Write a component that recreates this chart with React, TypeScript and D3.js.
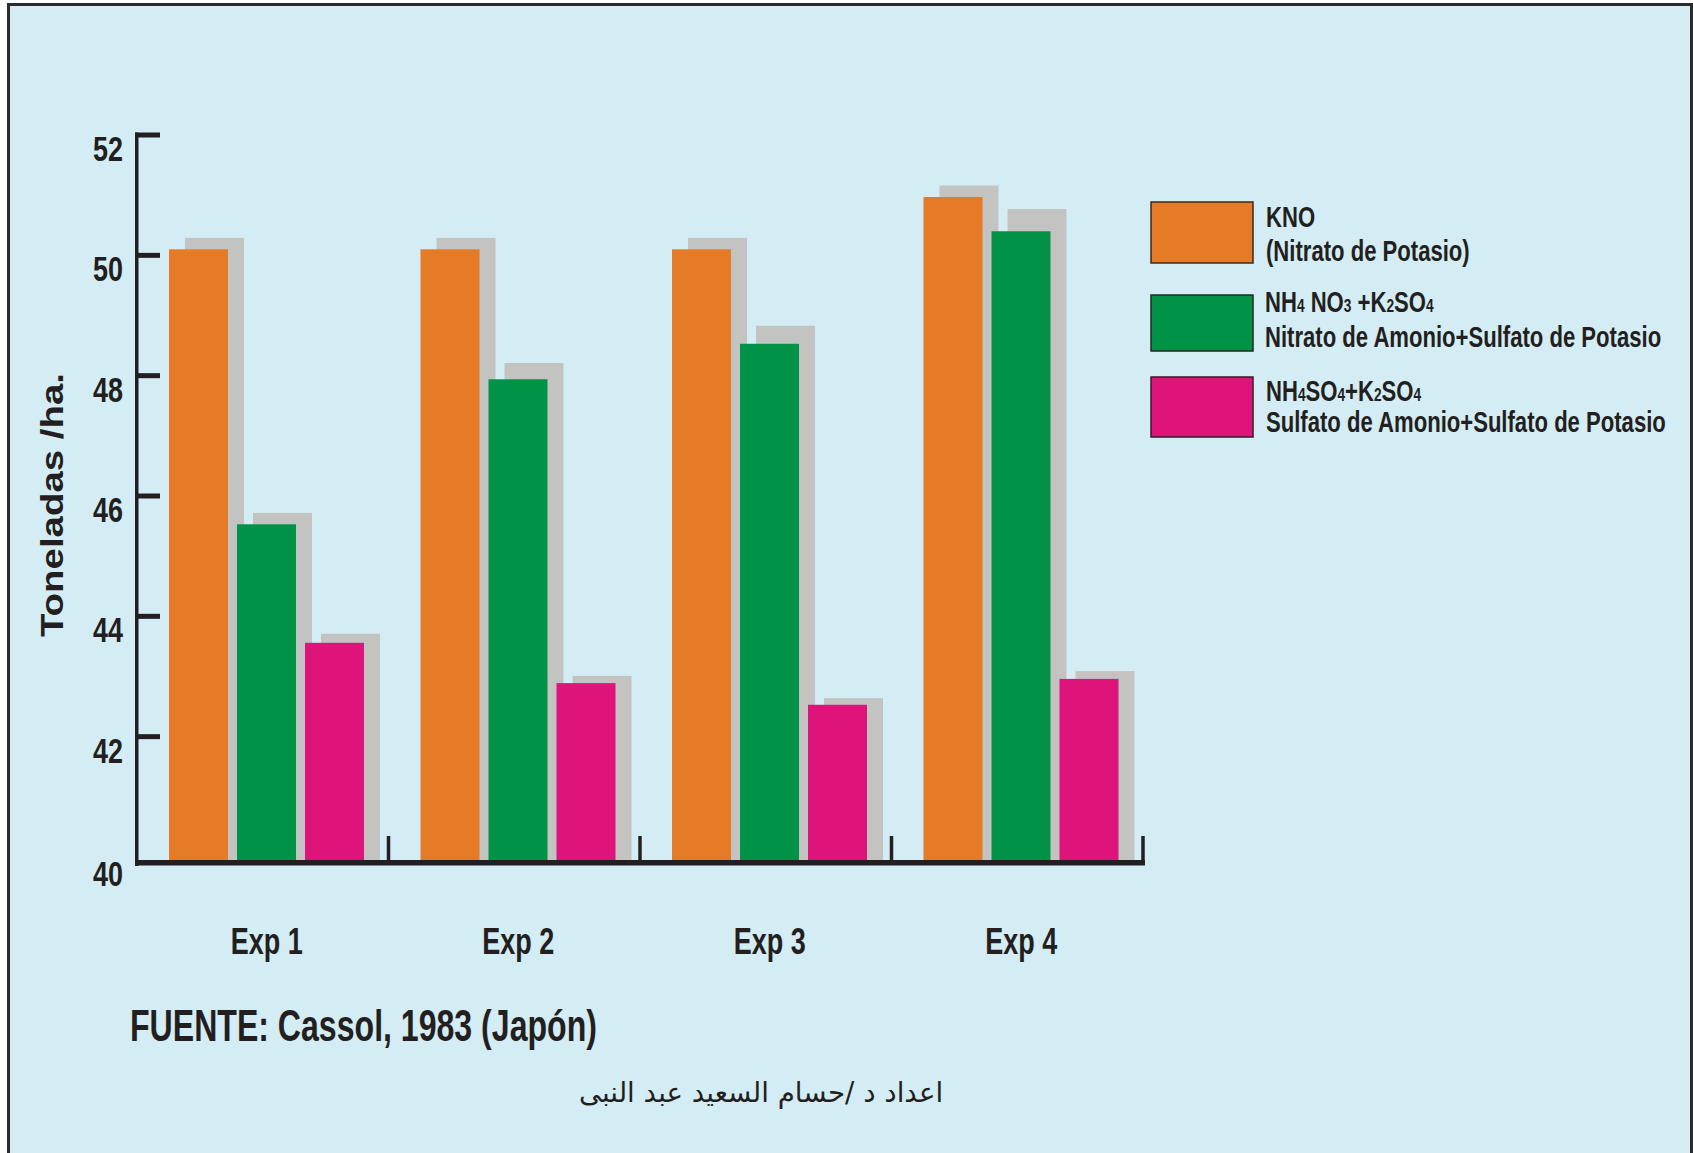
import React from 'react';
import * as d3 from 'd3';

// ---- data ----
const categories = ['Exp 1', 'Exp 2', 'Exp 3', 'Exp 4'];
const seriesKeys = ['KNO', 'NH4NO3+K2SO4', 'NH4SO4+K2SO4'];
const knoValues = [50.1, 50.1, 50.1, 50.97];
const nitratoAmonioValues = [45.53, 47.94, 48.53, 50.4];
const sulfatoAmonioValues = [43.56, 42.89, 42.53, 42.96];
// gray backdrop bars drawn behind each coloured bar
const knoShadow = [50.29, 50.29, 50.29, 51.16];
const nitratoShadow = [45.72, 48.21, 48.83, 50.77];
const sulfatoShadow = [43.71, 43.01, 42.64, 43.09];
const yTicks = [40, 42, 44, 46, 48, 50, 52];
const yDomain = [40, 52];

const seriesColors = ['#E57A27', '#009247', '#DE147B'];
const SHADOW = '#C3C3C1';
const BG = '#D4EDF4';
const INK = '#231F20';
const NARROW = '"Liberation Sans", Arial, sans-serif';
const SANS = '"Liberation Sans", Arial, sans-serif';

const W = 1693;
const H = 1153;

function CText({ x, y, size, sx = 1, anchor = 'start', weight = 'bold', family = NARROW, children }: any) {
  return (
    <text
      transform={`translate(${x},${y}) scale(${sx},1)`}
      fontSize={size}
      fontWeight={weight}
      fontFamily={family}
      textAnchor={anchor}
      fill={INK}
    >
      {children}
    </text>
  );
}

export default function App() {
  const x0 = d3.scaleBand<string>().domain(categories).range([137, 1143]).paddingInner(0).paddingOuter(0);
  const x1 = d3.scaleBand<string>().domain(seriesKeys).range([32, 227]).paddingInner(9 / 68).paddingOuter(0);
  const y = d3.scaleLinear().domain(yDomain).range([857, 135]);
  const baseTop = 860;
  const shadowDx = 16;

  const values = [knoValues, nitratoAmonioValues, sulfatoAmonioValues];
  const shadows = [knoShadow, nitratoShadow, sulfatoShadow];

  const sub = (t: string) => <tspan fontSize="0.62em">{t}</tspan>;

  return (
    <svg width={W} height={H} style={{ position: 'absolute', left: 0, top: 0, background: '#fff' }}>
      <rect x={8.5} y={4.5} width={1683} height={1200} fill={BG} stroke="#2b2b2b" strokeWidth={3} />

      {/* bars */}
      {categories.map((c, gi) => (
        <g key={c}>
          {seriesKeys.map((k, si) => {
            const bx = (x0(c) as number) + (x1(k) as number);
            const bw = x1.bandwidth();
            const v = values[si][gi];
            const sv = shadows[si][gi];
            return (
              <g key={k}>
                <rect x={bx + shadowDx} y={y(sv)} width={bw} height={baseTop - y(sv)} fill={SHADOW} />
                <rect x={bx} y={y(v)} width={bw} height={baseTop - y(v)} fill={seriesColors[si]} />
              </g>
            );
          })}
        </g>
      ))}

      {/* y axis */}
      <rect x={135} y={y(52) - 2.5} width={3.5} height={866 - (y(52) - 2.5)} fill={INK} />
      {yTicks.filter((t) => t > yDomain[0]).map((t) => (
        <rect key={t} x={135} y={y(t) - 2.5} width={25} height={5} fill={INK} />
      ))}
      {yTicks.map((t) => (
        <CText key={t} x={123} y={(t === 40 ? baseTop : y(t)) + 26} size={35} sx={0.77} anchor="end">
          {t}
        </CText>
      ))}

      {/* baseline + group separators */}
      <rect x={135} y={baseTop} width={1145 - 135} height={5.5} fill={INK} />
      {categories.map((c) => (
        <rect key={c} x={(x0(c) as number) + x0.bandwidth() - 1.75} y={836} width={3.5} height={baseTop - 836} fill={INK} />
      ))}

      {/* category labels */}
      {categories.map((c) => (
        <CText key={c} x={(x0(c) as number) + x0.bandwidth() / 2 + 4} y={953.5} size={37} sx={0.73} anchor="middle">
          {c}
        </CText>
      ))}

      {/* y title */}
      <text
        transform="translate(63,505) rotate(-90)"
        fontSize={31}
        fontWeight="bold"
        fontFamily={SANS}
        textAnchor="middle"
        fill={INK}
        textLength={264}
        lengthAdjust="spacingAndGlyphs"
      >
        Toneladas /ha.
      </text>

      {/* legend */}
      <rect x={1151} y={202} width={102} height={61} fill={seriesColors[0]} stroke="#3a2a20" strokeWidth={1.5} />
      <rect x={1151} y={295} width={102} height={56} fill={seriesColors[1]} stroke="#1e2a22" strokeWidth={1.5} />
      <rect x={1151} y={377} width={102} height={60} fill={seriesColors[2]} stroke="#3a1a2a" strokeWidth={1.5} />

      <CText x={1266} y={227} size={29} sx={0.762}>KNO</CText>
      <CText x={1266} y={261} size={29} sx={0.762}>(Nitrato de Potasio)</CText>
      <CText x={1265} y={312} size={29} sx={0.762}>
        NH{sub('4')} NO{sub('3')} +K{sub('2')}SO{sub('4')}
      </CText>
      <CText x={1265} y={347} size={29} sx={0.762}>Nitrato de Amonio+Sulfato de Potasio</CText>
      <CText x={1266} y={401} size={29} sx={0.762}>
        NH{sub('4')}SO{sub('4')}+K{sub('2')}SO{sub('4')}
      </CText>
      <CText x={1266} y={432} size={29} sx={0.762}>Sulfato de Amonio+Sulfato de Potasio</CText>

      {/* source */}
      <CText x={130} y={1041} size={45} sx={0.713}>FUENTE: Cassol, 1983 (Japón)</CText>
      <text x={761} y={1102} fontSize={27.7} fontFamily='"DejaVu Sans", sans-serif' textAnchor="middle" direction="rtl" fill={INK}>
        اعداد د /حسام السعيد عبد النبى
      </text>
    </svg>
  );
}
